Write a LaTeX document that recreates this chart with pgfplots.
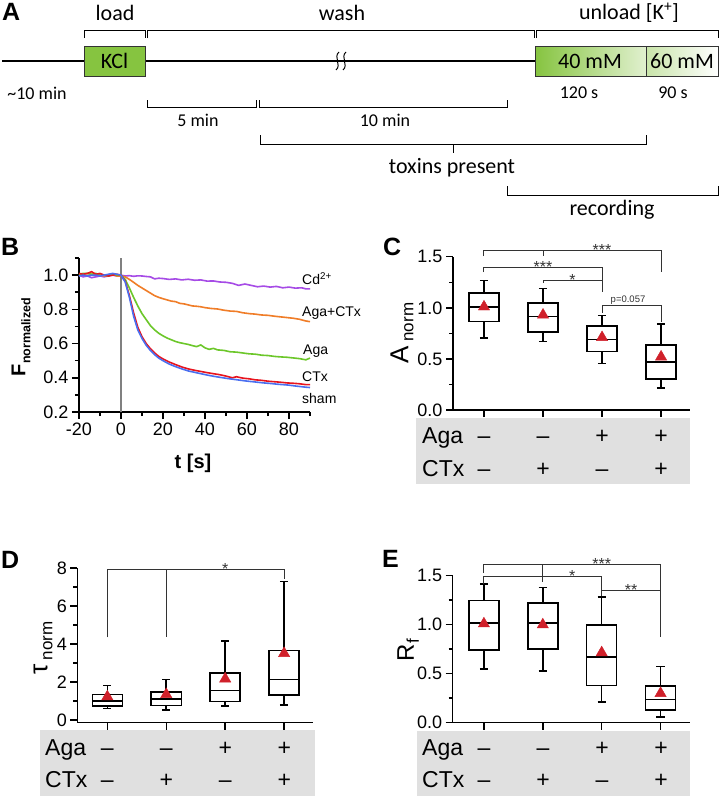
\documentclass[border=0pt]{standalone}
\usepackage{fontspec}
\setmainfont{Liberation Sans}
\newfontfamily\calib{Carlito}
\usepackage{pgfplots}
\pgfplotsset{compat=1.18}
\usepgfplotslibrary{statistics}
\newcommand\fs[1]{\fontsize{#1bp}{#1bp}\selectfont}
\definecolor{cpur}{HTML}{A64BE6}
\definecolor{cora}{HTML}{F07D28}
\definecolor{cgrn}{HTML}{6CC72A}
\definecolor{cred}{HTML}{E8141E}
\definecolor{cblu}{HTML}{4A6FF0}
\definecolor{tri}{HTML}{D0202A}
\definecolor{band}{HTML}{E0E0E0}
\definecolor{kgreen}{HTML}{86C440}
\definecolor{brk}{HTML}{333333}
\pgfplotsset{
  panel/.style={scale only axis, anchor=south west, clip=false,
    axis x line*=bottom, axis y line*=left,
    x axis line style={-}, y axis line style={-},
    axis line style={line width=1.5bp, black},
    every tick/.style={black, line width=1.5bp},
    tick align=outside, major tick length=7bp, minor tick length=4bp,
    tick label style={font=\fs{18}}, /pgf/number format/assume math mode=true},
  boxpanel/.style={panel, xtick={1,2,3,4}, xticklabels={}, boxplot/draw direction=y,
    yticklabel style={/pgf/number format/fixed, /pgf/number format/fixed zerofill, /pgf/number format/precision=1}},
}
\newcommand\bx[6]{\addplot[black, line width=1.5bp, boxplot prepared={draw direction=y, draw position=#1, lower whisker=#2, lower quartile=#3, median=#4, upper quartile=#5, upper whisker=#6, box extend=0.51, whisker extend=0.14, every median/.style={black, line width=1.6bp}, every box/.style={draw=black, line width=1.6bp}, every whisker/.style={black, line width=1.6bp}}] coordinates {};}
\newcommand\brk[5]{\draw[brk, line width=1bp] (axis cs:#1,#4) -- (axis cs:#1,#3) -- (axis cs:#2,#3) -- (axis cs:#2,#5);}
\newcommand\stars[3]{\node[font=\fs{16}, text=brk, anchor=base, inner sep=0, yshift=-5bp] at (axis cs:#1,#2) {#3};}
\begin{document}
\begin{tikzpicture}
\path[use as bounding box, fill=white] (0,0) rectangle (720bp,-797bp);
% ---------------- Panel A
\begin{scope}[x=1bp,y=1bp]
\node[font=\bfseries\fs{25}, anchor=base west, inner sep=0] at (2,-20) {A};
\node[font=\calib\fs{22}] at (115,-13) {load};
\node[font=\calib\fs{22}] at (342,-13) {wash};
\node[font=\calib\fs{22}] at (629,-13) {unload [K\textsuperscript{+}]};
\draw[line width=1bp] (84,-38)--(84,-30)--(145,-30)--(145,-38);
\draw[line width=1bp] (147,-38)--(147,-30)--(534,-30)--(534,-38);
\draw[line width=1bp] (536,-38)--(536,-30)--(718,-30)--(718,-38);
\draw[line width=1.5bp] (2,-61)--(84,-61);
\draw[line width=1.5bp] (145,-61)--(535,-61);
\filldraw[fill=kgreen, draw=black!80, line width=1bp] (84,-46) rectangle (145,-76);
\node[font=\calib\fs{22}] at (114.5,-61) {KCl};
\shade[left color=kgreen, middle color=kgreen!85!white, right color=kgreen!25!white] (535,-46) rectangle (646,-76);
\shade[left color=kgreen!45!white, right color=white] (646,-46) rectangle (718,-76);
\draw[draw=black!80, line width=1bp] (535,-46) rectangle (718,-76) (646,-46)--(646,-76);
\node[font=\calib\fs{22}] at (590,-61) {40 mM};
\node[font=\calib\fs{22}] at (682,-61) {60 mM};
\draw[line width=1bp] (339,-52) .. controls (333,-57) and (342,-65) .. (336,-70);
\draw[line width=1bp] (346,-52) .. controls (340,-57) and (349,-65) .. (343,-70);
\node[font=\calib\fs{18}] at (37,-93) {\textasciitilde10 min};
\node[font=\calib\fs{18}] at (579,-93) {120 s};
\node[font=\calib\fs{18}] at (673,-93) {90 s};
\draw[line width=1bp] (147,-100)--(147,-107)--(256,-107)--(256,-100);
\draw[line width=1bp] (259,-100)--(259,-107)--(507,-107)--(507,-100);
\node[font=\calib\fs{18}] at (198,-120) {5 min};
\node[font=\calib\fs{18}] at (385,-120) {10 min};
\draw[line width=1bp] (260,-135)--(260,-144)--(646,-144)--(646,-135);
\draw[line width=1bp] (453,-144)--(453,-153);
\node[font=\calib\fs{22}] at (452,-168) {toxins present};
\draw[line width=1bp] (507,-186)--(507,-195)--(718,-195)--(718,-186);
\node[font=\calib\fs{22}] at (612,-210) {recording};
% panel letters
\node[font=\bfseries\fs{25}, anchor=base west, inner sep=0] at (1,-255) {B};
\node[font=\bfseries\fs{25}, anchor=base west, inner sep=0] at (383,-255) {C};
\node[font=\bfseries\fs{25}, anchor=base west, inner sep=0] at (1,-568) {D};
\node[font=\bfseries\fs{25}, anchor=base west, inner sep=0] at (382,-567) {E};
% gray bands
\fill[band] (416,-418) rectangle (690,-484);
\fill[band] (40,-730) rectangle (315,-796);
\fill[band] (417,-731) rectangle (690,-796);
\foreach \xo/\yb in {422/443.5, 45/755, 422/755}{
  \node[font=\fs{23}, anchor=base west, inner sep=0] at (\xo,-\yb) {Aga};
  \node[font=\fs{23}, anchor=base west, inner sep=0] at (\xo,-\yb-32.5) {CTx};
}
\foreach \xa/\yb in {484/443.5, 107.3/755, 484/755}{
  \node[font=\fs{23}, anchor=base, inner sep=0] at (\xa,-\yb) {\textendash};
  \node[font=\fs{23}, anchor=base, inner sep=0] at (\xa+59,-\yb) {\textendash};
  \node[font=\fs{23}, anchor=base, inner sep=0] at (\xa+118,-\yb) {+};
  \node[font=\fs{23}, anchor=base, inner sep=0] at (\xa+177,-\yb) {+};
  \node[font=\fs{23}, anchor=base, inner sep=0] at (\xa,-\yb-32.5) {\textendash};
  \node[font=\fs{23}, anchor=base, inner sep=0] at (\xa+59,-\yb-32.5) {+};
  \node[font=\fs{23}, anchor=base, inner sep=0] at (\xa+118,-\yb-32.5) {\textendash};
  \node[font=\fs{23}, anchor=base, inner sep=0] at (\xa+177,-\yb-32.5) {+};
}
% axis labels
\node[rotate=90, font=\bfseries] at (21,-337) {\fs{20}F\raisebox{-5bp}{\fs{12.5}normalized}};
\node[font=\bfseries\fs{20}] at (193,-463) {t [s]};
\node[rotate=90] at (402,-333) {\fs{26}A\,\raisebox{-5bp}{\fs{17}norm}};
\node[rotate=90] at (43,-648) {\fs{26}τ\,\raisebox{-5bp}{\fs{17}norm}};
\node[rotate=90] at (408,-650) {\fs{24}R\raisebox{-5bp}{\fs{17}f}};
% line labels
\node[font=\fs{14}, anchor=west, inner sep=0] at (302,-279) {Cd\textsuperscript{2+}};
\node[font=\fs{14}, anchor=west, inner sep=0] at (302,-313) {Aga+CTx};
\node[font=\fs{14}, anchor=west, inner sep=0] at (303,-351) {Aga};
\node[font=\fs{14}, anchor=west, inner sep=0] at (302,-377) {CTx};
\node[font=\fs{14}, anchor=west, inner sep=0] at (302,-398) {sham};
\end{scope}
% ---------------- Panel B
\begin{axis}[panel, at={(79bp,-412bp)}, width=231bp, height=154bp,
  xmin=-20, xmax=90, ymin=0.2, ymax=1.1,
  xtick={-20,0,...,80}, minor xtick={-10,10,...,90},
  ytick={0.2,0.4,...,1.0}, minor ytick={0.3,0.5,0.7,0.9,1.1},
  yticklabel style={/pgf/number format/fixed, /pgf/number format/fixed zerofill, /pgf/number format/precision=1}]
\draw[gray, line width=1.5bp] (axis cs:0,0.2) -- (axis cs:0,1.1);
\addplot[cpur, line width=1.6bp] coordinates {(-20,1.0)(-18,0.99)(-16,0.995)(-14,0.985)(-12,0.99)(-10,0.995)(-8,0.99)(-6,0.995)(-4,1.0)(-2,0.995)(0,1.0)(2,0.995)(4,0.997)(6,0.993)(8,0.996)(10,0.995)(12,0.992)(14,0.99)(16,0.978)(18,0.982)(20,0.98)(23,0.975)(26,0.978)(29,0.972)(32,0.976)(35,0.97)(38,0.972)(41,0.965)(44,0.966)(47,0.96)(50,0.958)(53,0.952)(56,0.94)(59,0.948)(62,0.94)(65,0.932)(68,0.936)(71,0.93)(74,0.934)(77,0.926)(80,0.93)(83,0.924)(86,0.926)(88,0.92)(90,0.92)};
\addplot[cora, line width=1.6bp] coordinates {(-20,1.0)(-18,1.005)(-16,1.01)(-14,1.005)(-12,1.0)(-10,1.0)(-8,0.995)(-6,1.0)(-4,1.005)(-2,0.995)(0,0.995)(2,0.99)(4,0.975)(6,0.958)(8,0.94)(10,0.925)(12,0.91)(14,0.895)(16,0.88)(18,0.87)(20,0.862)(22,0.855)(24,0.848)(26,0.845)(28,0.835)(30,0.832)(32,0.826)(34,0.82)(36,0.818)(38,0.815)(40,0.81)(43,0.805)(46,0.802)(49,0.795)(52,0.79)(55,0.788)(58,0.78)(61,0.775)(64,0.772)(67,0.767)(70,0.765)(73,0.76)(76,0.756)(79,0.752)(82,0.748)(85,0.742)(88,0.732)(90,0.728)};
\addplot[cgrn, line width=1.6bp] coordinates {(-20,1.005)(-18,1.01)(-16,1.01)(-14,1.005)(-12,1.01)(-10,1.0)(-8,1.0)(-6,0.995)(-4,1.005)(-2,1.0)(0,1.0)(2,0.975)(4,0.925)(6,0.87)(8,0.82)(10,0.775)(12,0.74)(14,0.705)(16,0.68)(18,0.66)(20,0.645)(22,0.632)(24,0.622)(26,0.612)(28,0.605)(30,0.6)(32,0.595)(34,0.588)(36,0.582)(38,0.592)(40,0.575)(42,0.566)(44,0.572)(46,0.563)(49,0.56)(52,0.552)(55,0.55)(58,0.545)(61,0.54)(64,0.538)(67,0.532)(70,0.53)(73,0.525)(76,0.522)(79,0.52)(82,0.516)(85,0.512)(88,0.505)(90,0.515)};
\addplot[cred, line width=1.6bp] coordinates {(-20,1.01)(-18,1.005)(-16,1.01)(-14,1.02)(-12,1.005)(-10,1.01)(-8,1.0)(-6,0.995)(-4,1.0)(-2,1.005)(0,1.0)(2,0.965)(4,0.88)(6,0.78)(8,0.695)(10,0.64)(12,0.6)(14,0.57)(16,0.545)(18,0.525)(20,0.51)(23,0.492)(26,0.477)(29,0.463)(32,0.452)(35,0.444)(38,0.437)(41,0.43)(44,0.424)(47,0.418)(50,0.41)(53,0.4)(55,0.406)(58,0.398)(61,0.394)(64,0.388)(67,0.385)(70,0.38)(73,0.377)(76,0.374)(79,0.37)(82,0.368)(85,0.365)(88,0.36)(90,0.36)};
\addplot[cblu, line width=1.6bp] coordinates {(-20,0.995)(-18,1.0)(-16,0.995)(-14,1.0)(-12,1.0)(-10,0.995)(-8,1.0)(-6,1.005)(-4,1.01)(-2,1.005)(0,1.0)(2,0.96)(4,0.87)(6,0.76)(8,0.68)(10,0.63)(12,0.59)(14,0.56)(16,0.535)(18,0.515)(20,0.5)(23,0.48)(26,0.465)(29,0.452)(32,0.44)(35,0.432)(38,0.424)(41,0.416)(44,0.409)(47,0.403)(50,0.397)(53,0.392)(56,0.387)(59,0.382)(62,0.378)(65,0.374)(68,0.37)(71,0.367)(74,0.363)(77,0.36)(80,0.357)(83,0.352)(86,0.348)(88,0.345)(90,0.343)};
\end{axis}
% ---------------- Panel C
\begin{axis}[boxpanel, at={(453bp,-410bp)}, width=237bp, height=153.3bp,
  xmin=0.475, xmax=4.49, ymin=0, ymax=1.5,
  ytick={0,0.5,1,1.5}, minor ytick={0.25,0.75,1.25}]
\bx{1}{0.704}{0.867}{1.006}{1.146}{1.266}
\bx{2}{0.672}{0.762}{0.915}{1.049}{1.19}
\bx{3}{0.455}{0.574}{0.69}{0.821}{0.925}
\bx{4}{0.217}{0.305}{0.467}{0.636}{0.844}
\addplot[only marks, mark=triangle*, mark size=6.5bp, color=tri] coordinates {(1,1.01)(2,0.93)(3,0.71)(4,0.52)};
\brk{1}{4}{1.565}{1.505}{1.35}
\draw[brk, line width=1bp] (axis cs:2,1.565) -- (axis cs:2,1.505);
\brk{1}{3}{1.39}{1.35}{1.15}
\brk{2}{3}{1.27}{1.245}{1.15}
\brk{3}{4}{1.02}{0.95}{0.86}
\stars{3}{1.565}{***}
\stars{2}{1.39}{***}
\stars{2.5}{1.27}{*}
\node[font=\fs{9.5}, text=brk, anchor=south, inner sep=1bp] at (axis cs:3.44,1.02) {p=0.057};
\end{axis}
% ---------------- Panel D
\begin{axis}[boxpanel, at={(77.3bp,-722.7bp)}, width=235.7bp, height=154.7bp,
  xmin=0.49, xmax=4.49, ymin=-0.14, ymax=8,
  ytick={0,2,4,6,8}, minor ytick={1,3,5,7},
  yticklabel style={/pgf/number format/precision=0}]
\bx{1}{0.6}{0.75}{1.0}{1.35}{1.82}
\bx{2}{0.54}{0.77}{1.1}{1.49}{2.14}
\bx{3}{0.74}{0.98}{1.56}{2.47}{4.16}
\bx{4}{0.79}{1.31}{2.14}{3.65}{7.28}
\addplot[only marks, mark=triangle*, mark size=6.5bp, color=tri] coordinates {(1,1.23)(2,1.35)(3,2.17)(4,3.51)};
\brk{1}{4}{7.9}{4.35}{7.4}
\draw[brk, line width=1bp] (axis cs:2,7.9) -- (axis cs:2,4.35);
\stars{3}{7.9}{*}
\end{axis}
% ---------------- Panel E
\begin{axis}[boxpanel, at={(452.7bp,-722.7bp)}, width=237.3bp, height=147bp,
  xmin=0.47, xmax=4.5, ymin=0, ymax=1.5,
  ytick={0,0.5,1,1.5}, minor ytick={0.25,0.75,1.25}]
\bx{1}{0.545}{0.742}{1.02}{1.246}{1.415}
\bx{2}{0.53}{0.75}{1.015}{1.22}{1.38}
\bx{3}{0.21}{0.38}{0.67}{0.995}{1.28}
\bx{4}{0.06}{0.129}{0.237}{0.372}{0.575}
\addplot[only marks, mark=triangle*, mark size=6.5bp, color=tri] coordinates {(1,1.01)(2,1.0)(3,0.715)(4,0.30)};
\brk{1}{4}{1.61}{1.53}{1.354}
\draw[brk, line width=1bp] (axis cs:2,1.61) -- (axis cs:2,1.44);
\brk{1}{3}{1.49}{1.42}{1.30}
\brk{3}{4}{1.354}{1.29}{0.87}
\stars{3}{1.61}{***}
\stars{2.5}{1.49}{*}
\stars{3.5}{1.354}{**}
\end{axis}
\end{tikzpicture}
\end{document}
